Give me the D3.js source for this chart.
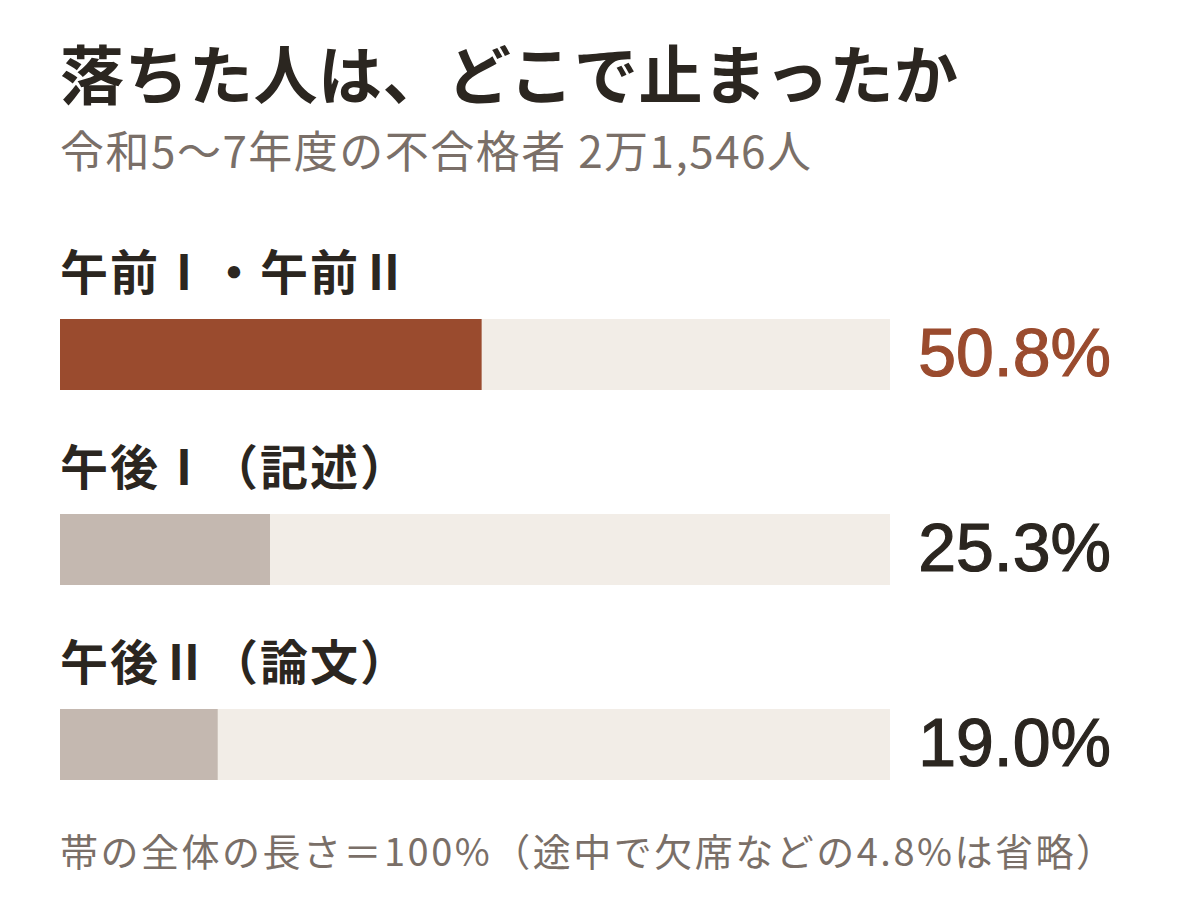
<!DOCTYPE html>
<html>
<head>
<meta charset="utf-8">
<script src="https://cdn.jsdelivr.net/npm/d3@7"></script>
<style>
  body { margin: 0; background: #fff; }
</style>
</head>
<body>
<script>
const categories = ["午前Ⅰ・午前Ⅱ", "午後Ⅰ（記述）", "午後Ⅱ（論文）"];
const values = [50.8, 25.3, 19.0];
const highlight = ["午前Ⅰ・午前Ⅱ"];
const titleText = "落ちた人は、どこで止まったか";
const subtitleText = "令和5～7年度の不合格者 2万1,546人";
const noteText = "帯の全体の長さ＝100%（途中で欠席などの4.8%は省略）";

const W = 1200, H = 900;
const cjk = "'Noto Sans CJK JP', 'Noto Sans', sans-serif";

const svg = d3.select("body").append("svg")
    .attr("width", W)
    .attr("height", H);

svg.append("rect").attr("width", W).attr("height", H).attr("fill", "#fff");

// title + subtitle
svg.append("text")
    .attr("x", 60).attr("y", 99)
    .attr("font-family", cjk)
    .attr("font-weight", 700)
    .attr("font-size", "64px")
    .attr("letter-spacing", "0.5px")
    .attr("fill", "#2b2620")
    .text(titleText);

svg.append("text")
    .attr("x", 60).attr("y", 168)
    .attr("font-family", cjk)
    .attr("font-size", "44px")
    .attr("letter-spacing", "1.5px")
    .attr("fill", "#7a6f68")
    .text(subtitleText);

const x = d3.scaleLinear().domain([0, 100]).range([60, 890]);
const y = d3.scaleBand().domain(categories).range([244, 829]);
const barH = 71;

const rows = svg.selectAll(".row")
    .data(categories.map((c, i) => ({cat: c, val: values[i]})))
    .enter().append("g")
    .attr("class", "row")
    .attr("transform", d => "translate(0," + y(d.cat) + ")");

rows.append("text")
    .attr("x", 60).attr("y", 46)
    .attr("font-family", cjk)
    .attr("font-weight", 700)
    .attr("font-size", "48px")
    .attr("letter-spacing", "2px")
    .attr("fill", "#2b2620")
    .text(d => d.cat);

// track = 100%
rows.append("rect")
    .attr("x", x(0)).attr("y", 75)
    .attr("width", x(100) - x(0))
    .attr("height", barH)
    .attr("fill", "#f2ede7");

rows.append("rect")
    .attr("x", x(0)).attr("y", 75)
    .attr("width", d => x(d.val) - x(0))
    .attr("height", barH)
    .attr("fill", d => highlight.includes(d.cat) ? "#9a4b2e" : "#c4b8b0");

rows.append("text")
    .attr("x", 1111).attr("y", 75 + barH / 2 + 21)
    .attr("text-anchor", "end")
    .attr("font-family", "'Liberation Sans', Arial, sans-serif")
    .attr("font-size", "68px")
    .attr("stroke-width", 1.2)
    .attr("stroke", d => highlight.includes(d.cat) ? "#9a4b2e" : "#2b2620")
    .attr("fill", d => highlight.includes(d.cat) ? "#9a4b2e" : "#2b2620")
    .text(d => d.val.toFixed(1) + "%");

svg.append("text")
    .attr("x", 60).attr("y", 866)
    .attr("font-family", cjk)
    .attr("font-size", "38px")
    .attr("letter-spacing", "2.5px")
    .attr("fill", "#7a6f68")
    .text(noteText);
</script>
</body>
</html>
